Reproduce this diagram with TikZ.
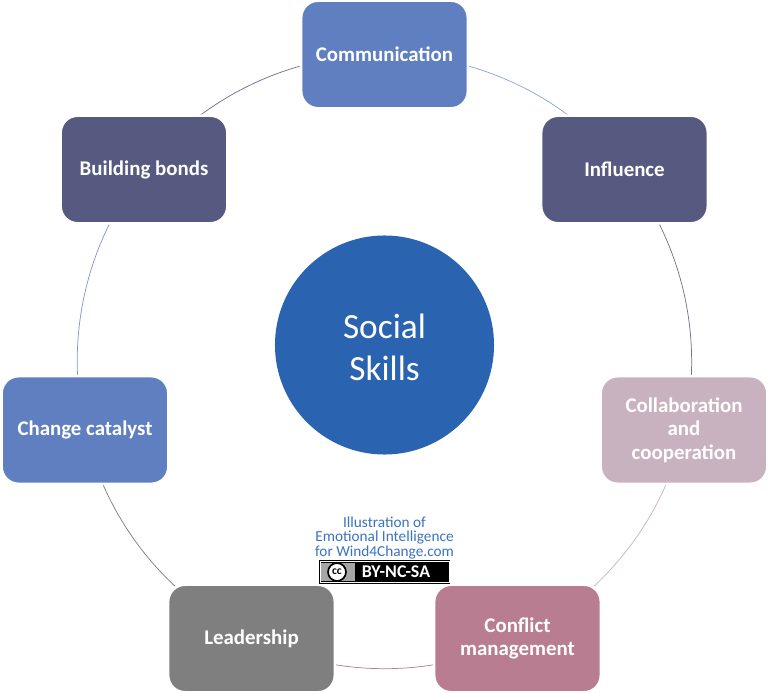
\documentclass[tikz,border=0pt]{standalone}
\usepackage{fontspec}
\setmainfont{Carlito}
\usetikzlibrary{backgrounds}
\definecolor{blueBox}{HTML}{5F7FC1}
\definecolor{navyBox}{HTML}{565A80}
\definecolor{paleBox}{HTML}{C9B2BF}
\definecolor{roseBox}{HTML}{B87D90}
\definecolor{greyBox}{HTML}{7F7F7F}
\definecolor{hubBlue}{HTML}{2A63B0}
\definecolor{creditBlue}{HTML}{3A72C0}
\tikzset{
  skill/.style={draw=white, line width=2.4pt, rounded corners=16pt, minimum width=158pt, minimum height=102pt, align=center, text=white, font=\fontsize{19.8}{22.3}\selectfont\bfseries, inner sep=0pt},
  ring/.style={line width=0.7pt, bend left=25.7, looseness=0.895},
}
\begin{document}
\begin{tikzpicture}[x=0.03333cm, y=-0.03333cm]
\useasboundingbox (0,0) rectangle (768,693);
\node[skill, fill=blueBox] (communication) at (384.5,54.5) {Communication};
\node[skill, fill=navyBox] (influence) at (624.5,169.5) {Influence};
\node[skill, fill=paleBox] (collaboration) at (684,430) {Collaboration\\and\\cooperation};
\node[skill, fill=roseBox] (conflict) at (517.5,638.5) {Conflict\\management};
\node[skill, fill=greyBox] (leadership) at (251.5,638.5) {Leadership};
\node[skill, fill=blueBox] (change) at (85,430) {Change catalyst};
\node[skill, fill=navyBox] (bonds) at (144,169.5) {Building bonds};
% hub
\node[circle, fill=hubBlue, minimum size=207.7pt, align=center, text=white, font=\fontsize{33.5}{40}\selectfont, inner sep=0pt] (hub) at (384.5,345) {\rule{0pt}{28pt}Social\\Skills};
% credit
\node[align=center, text=creditBlue, font=\fontsize{14.5}{13.7}\selectfont, inner sep=0pt] (credit) at (384.5,538) {Illustration of\\Emotional Intelligence\\for Wind4Change.com};
\node[draw=black, double=white, double distance=0.6pt, fill=black, line width=0.8pt, minimum width=122pt, minimum height=20.5pt, inner sep=0pt] (badge) at (384.5,572) {};
\node[fill=black!35, minimum width=32pt, minimum height=18pt, inner sep=0pt] (badgeleft) at (338,572) {};
\node[circle, draw=black, fill=white, line width=1.6pt, minimum size=17pt, inner sep=0pt, font=\fontsize{11}{11}\selectfont\bfseries] (ccmark) at (337,572) {cc};
\node[text=white, font=\fontsize{17}{17}\selectfont\bfseries, inner sep=0pt] (badgetext) at (396,572) {BY-NC-SA};
% ring
\begin{scope}[on background layer]
\draw[ring, color=blueBox!70] (communication.center) to (influence.center);
\draw[ring, color=navyBox!85] (influence.center) to (collaboration.center);
\draw[ring, color=paleBox] (collaboration.center) to (conflict.center);
\draw[ring, color=roseBox] (conflict.center) to (leadership.center);
\draw[ring, color=greyBox] (leadership.center) to (change.center);
\draw[ring, color=blueBox!80] (change.center) to (bonds.center);
\draw[ring, color=navyBox!85] (bonds.center) to (communication.center);
\end{scope}
\end{tikzpicture}
\end{document}
